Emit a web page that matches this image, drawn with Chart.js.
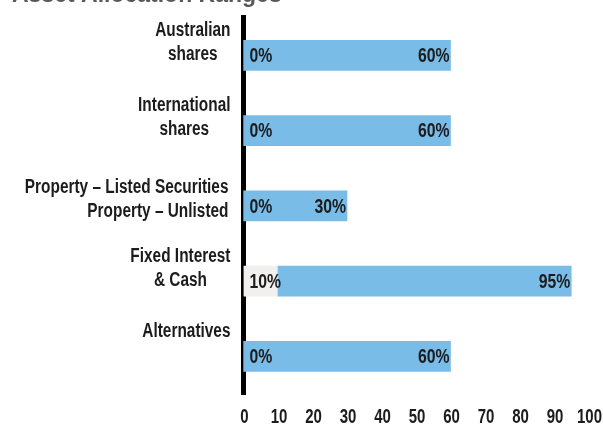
<!DOCTYPE html>
<html>
<head>
<meta charset="utf-8">
<script src="https://cdn.jsdelivr.net/npm/chart.js@4.4.1/dist/chart.umd.min.js"></script>
<style>
  html, body { margin: 0; padding: 0; background: #fff; overflow: hidden; }
  #wrap { position: relative; width: 603px; height: 452px; margin-top: -24px; }
</style>
</head>
<body>
<div id="wrap"><canvas id="allocChart"></canvas></div>
<script>
// asset classes, one entry per bar (multi-line labels)
const categories = [
  ['Australian', 'shares'],
  ['International', 'shares'],
  ['Property – Listed Securities', 'Property – Unlisted'],
  ['Fixed Interest', '& Cash'],
  ['Alternatives', ''],
];
const minRange = [0, 0, 0, 10, 0];
const maxRange = [60, 60, 30, 95, 60];
const xTickValues = [0, 10, 20, 30, 40, 50, 60, 70, 80, 90, 100];

const FONT = "'Liberation Sans', Arial, sans-serif";
const TEXT = '#1c1c1c';
const NARROW = 0.77; // squeeze Arial-metric text to a condensed look

// y labels drawn by hand so each block can be centred / right aligned like the original
const labelAlign = ['center', 'center', 'right', 'center', 'center'];
const labelShift = [0, 0, 7, 0, 0];

function narrowText(ctx, text, x, y, align) {
  ctx.save();
  ctx.translate(x, y);
  ctx.scale(NARROW, 1);
  ctx.textAlign = align;
  ctx.fillText(text, 0, 0);
  ctx.restore();
}

const textPlugin = {
  id: 'texts',
  afterDraw(chart) {
    const { ctx, chartArea } = chart;
    const x = chart.scales.x, y = chart.scales.y;
    ctx.save();
    ctx.fillStyle = TEXT;
    ctx.textBaseline = 'middle';

    // category labels
    ctx.font = 'bold 20px ' + FONT;
    const right = chartArea.left - 13;
    categories.forEach((lines, i) => {
      const cy = y.getPixelForValue(i) - 1 + labelShift[i];
      const widest = Math.max(...lines.map(l => ctx.measureText(l).width)) * NARROW;
      lines.forEach((line, j) => {
        const ly = cy - (lines.length - 1 - j) * 24;
        if (labelAlign[i] === 'right') narrowText(ctx, line, right - 2, ly, 'right');
        else narrowText(ctx, line, right - widest / 2, ly, 'center');
      });
    });

    // x tick labels
    ctx.font = 'bold 19.5px ' + FONT;
    xTickValues.forEach(v => {
      narrowText(ctx, String(v), x.getPixelForValue(v) + 1, chartArea.bottom + 24, 'center');
    });
    ctx.restore();
  },
};

// "0%" at the start of each row, "60%" at the end of the bar
const valueLabelsPlugin = {
  id: 'valueLabels',
  afterDatasetsDraw(chart) {
    const { ctx } = chart;
    const x = chart.scales.x, y = chart.scales.y;
    ctx.save();
    ctx.font = 'bold 20.5px ' + FONT;
    ctx.fillStyle = TEXT;
    ctx.textBaseline = 'middle';
    minRange.forEach((lo, i) => {
      const cy = y.getPixelForValue(i) + 1;
      narrowText(ctx, lo + '%', x.getPixelForValue(0) + 6, cy, 'left');
      narrowText(ctx, maxRange[i] + '%', x.getPixelForValue(maxRange[i]) - 1, cy, 'right');
    });
    ctx.restore();
  },
};

new Chart(document.getElementById('allocChart'), {
  type: 'bar',
  data: {
    labels: categories,
    datasets: [
      {
        label: 'Minimum',
        data: minRange.map(v => [0, v]),
        backgroundColor: '#f2f0ee',
        grouped: false, barThickness: 30, order: 2,
      },
      {
        label: 'Range',
        data: minRange.map((v, i) => [v, maxRange[i]]),
        backgroundColor: '#79bce8',
        grouped: false, barThickness: 30, order: 1,
      },
    ],
  },
  options: {
    indexAxis: 'y',
    responsive: true, maintainAspectRatio: false, animation: false,
    layout: { padding: { left: 12, right: 14.5, top: 0, bottom: 0 } },
    plugins: {
      legend: { display: false },
      tooltip: { enabled: false },
      title: {
        display: true, text: 'Asset Allocation Ranges', align: 'start',
        color: '#595959', font: { family: FONT, size: 23, weight: 'bold' },
        padding: { top: 5.7, bottom: 8.4 },
      },
    },
    scales: {
      x: {
        min: 0, max: 100,
        afterBuildTicks: s => { s.ticks = xTickValues.map(v => ({ value: v })); },
        afterFit: s => { s.height = 34; },
        grid: { display: false, drawTicks: false },
        border: { display: false },
        ticks: { display: false },
      },
      y: {
        z: 1,
        afterFit: s => { s.width = 231.5; },
        grid: { display: false, drawTicks: false },
        border: { display: true, color: '#000', width: 5 },
        ticks: { display: false },
      },
    },
  },
  plugins: [valueLabelsPlugin, textPlugin],
});
</script>
</body>
</html>
